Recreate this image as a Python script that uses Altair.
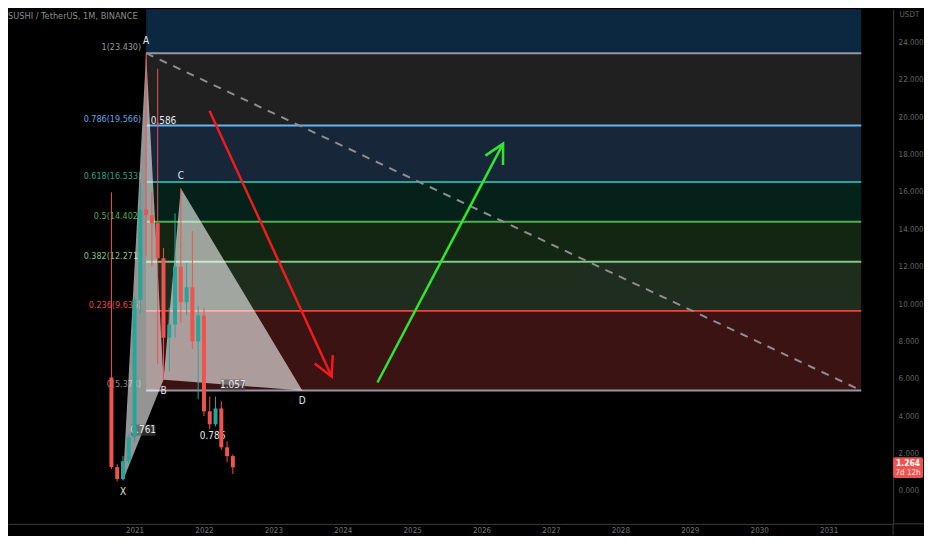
import math
import altair as alt
import pandas as pd

FONT = "Liberation Sans Narrow, DejaVu Sans Condensed, sans-serif"

# ---------------- data ----------------
TITLE = "SUSHI / TetherUS, 1M, BINANCE"
months = ["2020-09", "2020-10", "2020-11", "2020-12", "2021-01", "2021-02",
          "2021-03", "2021-04", "2021-05", "2021-06", "2021-07", "2021-08",
          "2021-09", "2021-10", "2021-11", "2021-12", "2022-01", "2022-02",
          "2022-03", "2022-04", "2022-05", "2022-06"]
opens = [6.07, 1.27, 0.63, 1.59, 2.87, 10.23, 15.05, 14.76, 14.33, 12.45, 8.20,
         8.90, 12.00, 10.10, 10.90, 8.00, 9.40, 4.26, 3.56, 4.41, 2.33, 1.86]
highs = [15.98, 1.43, 1.86, 3.03, 10.40, 16.50, 23.43, 16.00, 22.60, 13.00, 9.80,
         14.85, 16.20, 12.20, 13.90, 9.90, 9.80, 5.05, 5.05, 4.79, 2.65, 1.95]
lows = [1.16, 0.52, 0.55, 1.43, 2.60, 9.50, 12.60, 12.00, 6.80, 5.95, 6.40,
        8.20, 9.00, 9.40, 7.60, 4.90, 4.00, 3.30, 3.45, 2.20, 1.53, 0.90]
closes = [1.27, 0.63, 1.59, 2.87, 10.23, 15.05, 14.76, 14.33, 12.45, 8.20, 8.90,
          12.00, 10.10, 10.90, 8.00, 9.40, 4.26, 3.56, 4.41, 2.33, 1.86, 1.264]
last_price_text = ["1.264", "7d 12h"]

fib_ratios = [1, 0.786, 0.618, 0.5, 0.382, 0.236, 0]
fib_high = 23.430
fib_low = 5.374
fib_start_month = "2021-03"
fib_end_year = 2031.47
fib_line_colors = ["#9598a1", "#64b5f6", "#26a69a", "#4caf50", "#81c784", "#f44336", "#9598a1"]
fib_label_colors = ["#9a9a9a", "#5fa8e8", "#26a38c", "#4caf50", "#81c784", "#e84444", "#8a8a8a"]
# band above each level (the first one runs to the top of the chart)
fib_band_colors = ["#0c2841", "#202020", "#172638", "#04221a", "#132613", "#1f2d1f", "#3b1313"]

pattern_names = ["X", "A", "B", "C", "D"]
pattern_months = ["2020-11", "2021-03", "2021-06", "2021-09", "2023-06"]
pattern_values = [0.55, 23.43, 5.95, 16.20, 5.37]
ratio_texts = ["0.761", "0.586", "1.057", "0.786"]
ratio_pairs = [("X", "B"), ("A", "C"), ("B", "D"), ("X", "D")]
boxed_ratios = ["0.761", "1.057"]

arrow_names = ["down", "up"]
arrow_x0 = [2022.08, 2024.50]
arrow_y0 = [20.35, 5.80]
arrow_x1 = [2023.84, 2026.31]
arrow_y1 = [6.12, 18.59]
arrow_colors = ["#f21b1b", "#2fe62f"]

year_ticks = list(range(2021, 2032))
price_ticks = list(range(0, 25, 2))

# ---------------- geometry helpers ----------------
W, H = 889, 517
PAD_R, PAD_B = 31, 11
X_DOM = [2019.2482, 2031.8582]
Y_DOM = [-1.770, 25.789]
PX_X = W / (X_DOM[1] - X_DOM[0])
PX_Y = H / (Y_DOM[1] - Y_DOM[0])


def yr(m):
    y, mo = m.split("-")
    return int(y) + (int(mo) - 1) / 12.0


xs = alt.Scale(domain=X_DOM, nice=False, zero=False)
ys = alt.Scale(domain=Y_DOM, nice=False, zero=False)

AXIS_LINE = "#3c3c3c"
AX_X = alt.Axis(values=year_ticks, format="d", grid=False, ticks=False,
                domainColor=AXIS_LINE, domainWidth=1, labelColor="#767676",
                labelFontSize=8, labelFont=FONT, labelPadding=3, labelFlush=False,
                title=None)
AX_Y = alt.Axis(orient="right", values=price_ticks, format=".3f", grid=False,
                ticks=False, domainColor=AXIS_LINE, domainWidth=1,
                labelColor="#676767", labelFontSize=8, labelFont=FONT,
                labelPadding=5, labelFlush=False, title="USDT",
                titleAngle=0, titleX=6, titleY=5, titleAlign="left",
                titleBaseline="middle", titleFontSize=8, titleFont=FONT,
                titleFontWeight="normal", titleColor="#676767")


def X(f):
    return alt.X(f + ":Q", scale=xs, axis=AX_X, title=None)


def Y(f):
    return alt.Y(f + ":Q", scale=ys, axis=AX_Y, title="USDT")


# ---------------- tables ----------------
fib_x0 = yr(fib_start_month)
levels = [fib_low + r * (fib_high - fib_low) for r in fib_ratios]
band_tops = [Y_DOM[1]] + levels[:-1]
bands = pd.DataFrame({"x0": fib_x0, "x1": fib_end_year, "y0": levels, "y1": band_tops,
                      "color": fib_band_colors})
fib = pd.DataFrame({
    "x0": fib_x0, "x1": fib_end_year, "y": levels,
    "color": fib_line_colors, "lcolor": fib_label_colors,
    "label": [f"{r:g}({v:.3f})" for r, v in zip(fib_ratios, levels)],
})
dash = pd.DataFrame({"x": [fib_x0, fib_end_year], "y": [fib_high, fib_low]})

candles = pd.DataFrame({"x": [yr(m) for m in months], "o": opens, "h": highs,
                        "l": lows, "c": closes})
candles["color"] = ["#26a69a" if c >= o else "#ef5350" for o, c in zip(opens, closes)]

P = {n: (yr(m), v) for n, m, v in zip(pattern_names, pattern_months, pattern_values)}


def triangle(a, b, c):
    (xa, ya), (xb, yb), (xc, yc) = P[a], P[b], P[c]
    low_mid = ya + (yc - ya) * (xb - xa) / (xc - xa)
    return pd.DataFrame({"x": [xa, xb, xc], "y": [ya, yb, yc], "y2": [ya, low_mid, yc]})


tri1 = triangle("X", "A", "B")
tri2 = triangle("B", "C", "D")

pts = pd.DataFrame({"name": pattern_names, "x": [P[n][0] for n in pattern_names],
                    "y": [P[n][1] for n in pattern_names]})
pts_above = pts[pts["name"].isin(["A", "C"])]
pts_below = pts[~pts["name"].isin(["A", "C"])]

ratios = pd.DataFrame({
    "t": ratio_texts,
    "x": [(P[a][0] + P[b][0]) / 2 for a, b in ratio_pairs],
    "y": [(P[a][1] + P[b][1]) / 2 for a, b in ratio_pairs],
})
ratio_boxes = ratios[ratios["t"].isin(boxed_ratios)]

arrows = pd.DataFrame({"id": arrow_names, "x0": arrow_x0, "y0": arrow_y0,
                       "x1": arrow_x1, "y1": arrow_y1, "color": arrow_colors})
arrows["angle"] = [
    (math.degrees(math.atan2((x1 - x0) * PX_X, (y1 - y0) * PX_Y)) + 360) % 360
    for x0, y0, x1, y1 in zip(arrow_x0, arrow_y0, arrow_x1, arrow_y1)
]
arrow_lines = pd.concat([
    pd.DataFrame({"id": arrows["id"], "x": arrows["x0"], "y": arrows["y0"], "color": arrows["color"], "k": 0}),
    pd.DataFrame({"id": arrows["id"], "x": arrows["x1"], "y": arrows["y1"], "color": arrows["color"], "k": 1}),
])

one = pd.DataFrame({"a": [0]})

# ---------------- layers ----------------
band_layer = alt.Chart(bands).mark_rect().encode(
    x=X("x0"), x2="x1:Q", y=Y("y0"), y2="y1:Q",
    color=alt.Color("color:N", scale=None),
)

fib_lines = alt.Chart(fib).mark_rule(strokeWidth=2).encode(
    x=X("x0"), x2="x1:Q", y=Y("y"), color=alt.Color("color:N", scale=None))

dash_line = alt.Chart(dash).mark_line(color="#8e8e8e", strokeWidth=2, strokeDash=[8, 7]).encode(
    x=X("x"), y=Y("y"))

fib_labels = alt.Chart(fib).mark_text(align="right", baseline="bottom", dx=-5, dy=-1,
                                      fontSize=9, font=FONT).encode(
    x=X("x0"), y=Y("y"), text="label:N", color=alt.Color("lcolor:N", scale=None))

tri_a = alt.Chart(tri1).mark_area(color="#ffffff", opacity=0.58).encode(
    x=X("x"), y=Y("y"), y2="y2:Q")
tri_b = alt.Chart(tri2).mark_area(color="#ffffff", opacity=0.58).encode(
    x=X("x"), y=Y("y"), y2="y2:Q")

box_layer = alt.Chart(ratio_boxes).mark_point(
    shape="M-1.75,-0.8H1.75V0.8H-1.75Z", filled=True, size=196, color="#505050",
    opacity=0.55).encode(x=X("x"), y=Y("y"))

ratio_layer = alt.Chart(ratios).mark_text(fontSize=10, font=FONT, color="#e8e8e8",
                                          baseline="middle").encode(
    x=X("x"), y=Y("y"), text="t:N")

wicks = alt.Chart(candles).mark_rule(strokeWidth=1).encode(
    x=X("x"), y=Y("l"), y2="h:Q", color=alt.Color("color:N", scale=None))
bodies = alt.Chart(candles).mark_bar(size=4).encode(
    x=X("x"), y=Y("o"), y2="c:Q", color=alt.Color("color:N", scale=None))

arrow_shafts = alt.Chart(arrow_lines).mark_line(strokeWidth=2.5).encode(
    x=X("x"), y=Y("y"), detail="id:N", order="k:Q", color=alt.Color("color:N", scale=None))
arrow_heads = alt.Chart(arrows).mark_point(
    shape="M-1,1.9L0,0L1,1.9", filled=False, size=400, strokeWidth=2.5, opacity=1).encode(
    x=X("x1"), y=Y("y1"), angle=alt.Angle("angle:Q", scale=None),
    color=alt.Color("color:N", scale=None))

letters_above = alt.Chart(pts_above).mark_text(baseline="bottom", dy=-7, fontSize=10,
                                               font=FONT, color="#e6e6e6").encode(
    x=X("x"), y=Y("y"), text="name:N")
letters_below = alt.Chart(pts_below).mark_text(baseline="top", dy=6, fontSize=10,
                                               font=FONT, color="#e6e6e6").encode(
    x=X("x"), y=Y("y"), text="name:N")

title_layer = alt.Chart(one).mark_text(align="left", baseline="middle", fontSize=9.2,
                                       font=FONT, color="#8c8c8c").encode(
    x=alt.value(0), y=alt.value(7), text=alt.value(TITLE))

# axis lines continued across the label margins
axis_ext_h = alt.Chart(one).mark_rule(color=AXIS_LINE, strokeWidth=1).encode(
    x=alt.value(W), x2=alt.value(W + PAD_R), y=alt.value(H))
axis_ext_v = alt.Chart(one).mark_rule(color=AXIS_LINE, strokeWidth=1).encode(
    x=alt.value(W), y=alt.value(H), y2=alt.value(H + PAD_B))

price_box = alt.Chart(one).mark_rect(color="#ef5350", cornerRadius=2).encode(
    x=alt.value(W), x2=alt.value(W + 30), y=alt.value(450), y2=alt.value(471))
price_t1 = alt.Chart(one).mark_text(fontSize=8.5, font=FONT, color="#ffffff",
                                    fontWeight="bold", baseline="middle").encode(
    x=alt.value(W + 15), y=alt.value(455.5), text=alt.value(last_price_text[0]))
price_t2 = alt.Chart(one).mark_text(fontSize=8, font=FONT, color="#ffe8e8",
                                    baseline="middle").encode(
    x=alt.value(W + 15), y=alt.value(465.5), text=alt.value(last_price_text[1]))

chart = alt.layer(
    band_layer, fib_lines, dash_line, fib_labels, tri_a, tri_b, box_layer, ratio_layer,
    wicks, bodies, arrow_shafts, arrow_heads, letters_above, letters_below,
    title_layer, axis_ext_h, axis_ext_v, price_box, price_t1, price_t2,
).properties(
    width=W, height=H,
    autosize=alt.AutoSizeParams(type="none"),
    padding={"left": 0, "top": 0, "right": PAD_R, "bottom": PAD_B},
    background="#000000",
).configure_view(strokeWidth=0)

chart.save("out.html", embed_options={"renderer": "svg", "actions": False})
